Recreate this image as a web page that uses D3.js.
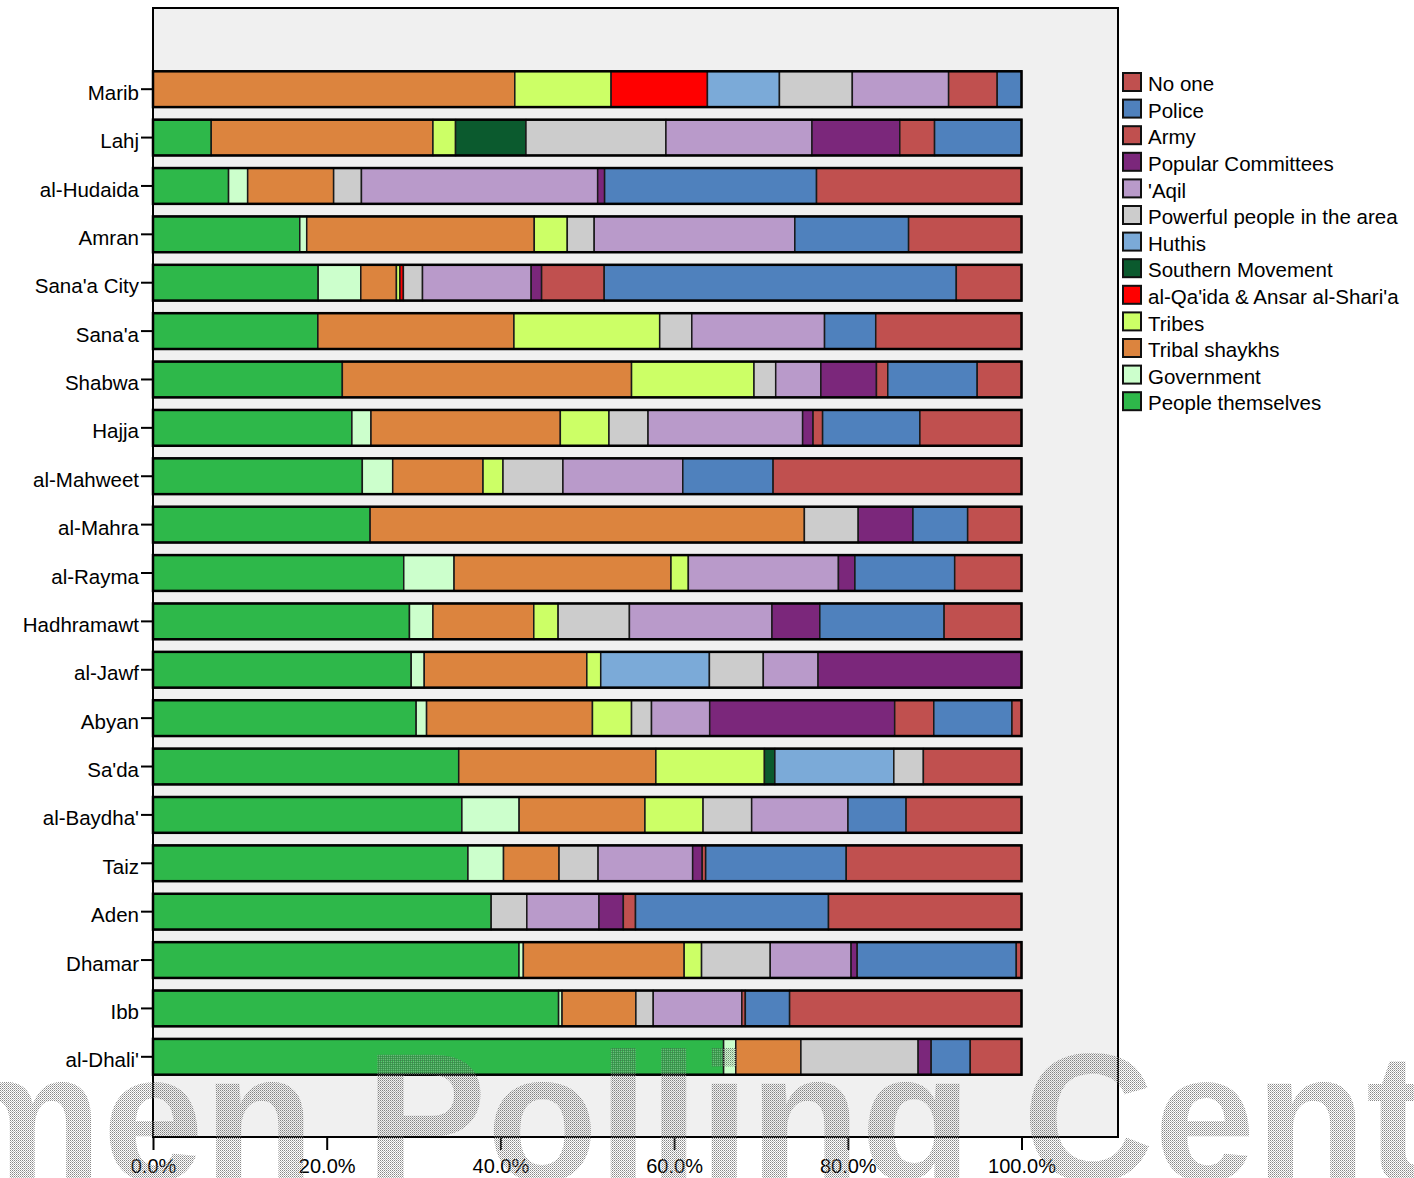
<!DOCTYPE html>
<html>
<head>
<meta charset="utf-8">
<script src="https://cdn.jsdelivr.net/npm/d3@7"></script>
<style>
  body { margin: 0; background: #fff; }
  text { font-family: Arial, "Liberation Sans", sans-serif; }
</style>
</head>
<body>
<div id="viz"></div>
<script>
// regions, top to bottom
const regions = ["Marib", "Lahj", "al-Hudaida", "Amran", "Sana'a City", "Sana'a", "Shabwa", "Hajja",
  "al-Mahweet", "al-Mahra", "al-Rayma", "Hadhramawt", "al-Jawf", "Abyan", "Sa'da", "al-Baydha'",
  "Taiz", "Aden", "Dhamar", "Ibb", "al-Dhali'"];

// percentages per answer, one value per region (same order as regions)
const peopleThemselves = [0, 6.7, 8.7, 16.9, 19.0, 19.0, 21.8, 22.9, 24.1, 25.0, 28.9, 29.5, 29.7, 30.3, 35.2, 35.6, 36.3, 38.9, 42.1, 46.7, 65.7];
const government       = [0, 0, 2.2, 0.8, 4.9, 0, 0, 2.2, 3.5, 0, 5.8, 2.7, 1.5, 1.2, 0, 6.6, 4.1, 0, 0.5, 0.4, 1.4];
const tribalShaykhs    = [41.7, 25.5, 9.9, 26.2, 4.1, 22.6, 33.3, 21.8, 10.4, 50.0, 25.0, 11.6, 18.7, 19.1, 22.7, 14.5, 6.4, 0, 18.5, 8.5, 7.5];
const tribes           = [11.1, 2.6, 0, 3.8, 0.4, 16.8, 14.1, 5.6, 2.3, 0, 2.0, 2.8, 1.6, 4.5, 12.5, 6.7, 0, 0, 2.0, 0, 0];
const qaida            = [11.1, 0, 0, 0, 0.4, 0, 0, 0, 0, 0, 0, 0, 0, 0, 0, 0, 0, 0, 0, 0, 0];
const southern         = [0, 8.1, 0, 0, 0, 0, 0, 0, 0, 0, 0, 0, 0, 0, 1.2, 0, 0, 0, 0, 0, 0];
const huthis           = [8.3, 0, 0, 0, 0, 0, 0, 0, 0, 0, 0, 0, 12.5, 0, 13.7, 0, 0, 0, 0, 0, 0];
const powerful         = [8.4, 16.1, 3.2, 3.1, 2.2, 3.7, 2.5, 4.5, 6.9, 6.2, 0, 8.2, 6.2, 2.3, 3.4, 5.6, 4.5, 4.1, 7.9, 2.0, 13.5];
const aqil             = [11.1, 16.8, 27.2, 23.1, 12.5, 15.3, 5.2, 17.8, 13.8, 0, 17.3, 16.4, 6.3, 6.7, 0, 11.1, 10.9, 8.3, 9.3, 10.2, 0];
const popCommittees    = [0, 10.1, 0.8, 0, 1.2, 0, 6.4, 1.2, 0, 6.3, 1.9, 5.5, 23.4, 21.3, 0, 0, 1.1, 2.8, 0.7, 0, 1.5];
const army             = [5.6, 4.0, 0, 0, 7.2, 0, 1.3, 1.1, 0, 0, 0, 0, 0, 4.5, 0, 0, 0.4, 1.4, 0, 0.4, 0];
const police           = [2.8, 10.0, 24.4, 13.1, 40.5, 5.9, 10.3, 11.2, 10.4, 6.3, 11.5, 14.3, 0, 9.0, 0, 6.7, 16.2, 22.2, 18.3, 5.1, 4.5];
const noOne            = [0, 0, 23.6, 13.0, 7.5, 16.8, 5.1, 11.7, 28.6, 6.2, 7.7, 8.9, 0, 1.1, 11.3, 13.3, 20.2, 22.2, 0.6, 26.7, 5.9];

// stack order, left to right
const seriesNames = ["People themselves", "Government", "Tribal shaykhs", "Tribes", "al-Qa'ida & Ansar al-Shari'a",
  "Southern Movement", "Huthis", "Powerful people in the area", "'Aqil", "Popular Committees", "Army", "Police", "No one"];
const seriesValues = [peopleThemselves, government, tribalShaykhs, tribes, qaida, southern, huthis, powerful,
  aqil, popCommittees, army, police, noOne];
const seriesColors = ["#2eb84a", "#ccffcc", "#dc843e", "#ccff66", "#ff0000", "#0b5a2e", "#7baad8", "#cccccc",
  "#b99aca", "#7b277b", "#c0504f", "#4f81bd", "#c0504f"];

const xTicks = [0, 0.2, 0.4, 0.6, 0.8, 1];

const W = 1414, H = 1178;
const plot = {left: 153, top: 8, right: 1118, bottom: 1137};

const svg = d3.select("#viz").append("svg")
  .attr("width", W)
  .attr("height", H);

// rows for d3.stack
const rows = regions.map((r, i) => {
  const o = {region: r};
  seriesNames.forEach((s, j) => { o[s] = seriesValues[j][i]; });
  return o;
});

const stacked = d3.stack()
  .keys(seriesNames)
  .offset(d3.stackOffsetExpand)(rows);

const color = d3.scaleOrdinal().domain(seriesNames).range(seriesColors);

const x = d3.scaleLinear().domain([0, 1]).range([plot.left, 1021.5]);
const y = d3.scaleBand().domain(regions).range([65, 1081]).paddingInner(0.26).paddingOuter(0.13);

// plot background
svg.append("rect")
  .attr("x", plot.left).attr("y", plot.top)
  .attr("width", plot.right - plot.left).attr("height", plot.bottom - plot.top)
  .attr("fill", "#f0f0f0").attr("stroke", "#000").attr("stroke-width", 2);

// segments
svg.append("g").selectAll("g")
  .data(stacked)
  .join("g")
  .attr("fill", d => color(d.key))
  .selectAll("rect")
  .data(d => d.filter(p => p[1] - p[0] > 0))
  .join("rect")
  .attr("x", d => x(d[0]))
  .attr("y", d => y(d.data.region))
  .attr("width", d => x(d[1]) - x(d[0]))
  .attr("height", y.bandwidth())
  .attr("stroke", "#1a1a1a")
  .attr("stroke-width", 1.5);

// outer bar borders
svg.append("g").selectAll("rect")
  .data(regions)
  .join("rect")
  .attr("x", x(0))
  .attr("y", d => y(d))
  .attr("width", x(1) - x(0))
  .attr("height", y.bandwidth())
  .attr("fill", "none")
  .attr("stroke", "#000")
  .attr("stroke-width", 2.5);

// y axis
const yAxis = svg.append("g")
  .attr("transform", "translate(" + plot.left + ",0)")
  .call(d3.axisLeft(y).tickSize(12).tickPadding(2));
yAxis.select(".domain").remove();
yAxis.selectAll("line").attr("stroke", "#000").attr("stroke-width", 2);
yAxis.selectAll("text").attr("font-size", 20.5).attr("fill", "#000").attr("y", 4);

// x axis
const xAxis = svg.append("g")
  .attr("transform", "translate(0," + plot.bottom + ")")
  .call(d3.axisBottom(x).tickValues(xTicks).tickSize(13).tickPadding(9).tickFormat(d3.format(".1%")));
xAxis.select(".domain").remove();
xAxis.selectAll("line").attr("stroke", "#000").attr("stroke-width", 2);
xAxis.selectAll("text").attr("font-size", 20).attr("fill", "#000");

// legend (reverse of stack order)
const legend = svg.append("g").attr("transform", "translate(1123,73)");
const legendItems = legend.selectAll("g")
  .data(seriesNames.slice().reverse())
  .join("g")
  .attr("transform", (d, i) => "translate(0," + (i * 26.6) + ")");
legendItems.append("rect")
  .attr("width", 18).attr("height", 18)
  .attr("fill", d => color(d))
  .attr("stroke", "#111").attr("stroke-width", 2);
legendItems.append("text")
  .attr("x", 25).attr("y", 11).attr("dy", "0.35em")
  .attr("font-size", 20.5)
  .text(d => d);

// dotted watermark
const defs = svg.append("defs");
const pat = defs.append("pattern")
  .attr("id", "dots")
  .attr("width", 2).attr("height", 2)
  .attr("patternUnits", "userSpaceOnUse");
pat.append("rect").attr("width", 1).attr("height", 1).attr("fill", "#555");
pat.append("rect").attr("x", 1).attr("y", 1).attr("width", 1).attr("height", 1).attr("fill", "#999");

svg.append("text")
  .attr("x", -272)
  .attr("y", 1180)
  .attr("font-size", 182)
  .attr("font-weight", "bold")
  .attr("fill", "url(#dots)")
  .attr("opacity", 0.7)
  .text("Yemen Polling Center");
</script>
</body>
</html>
